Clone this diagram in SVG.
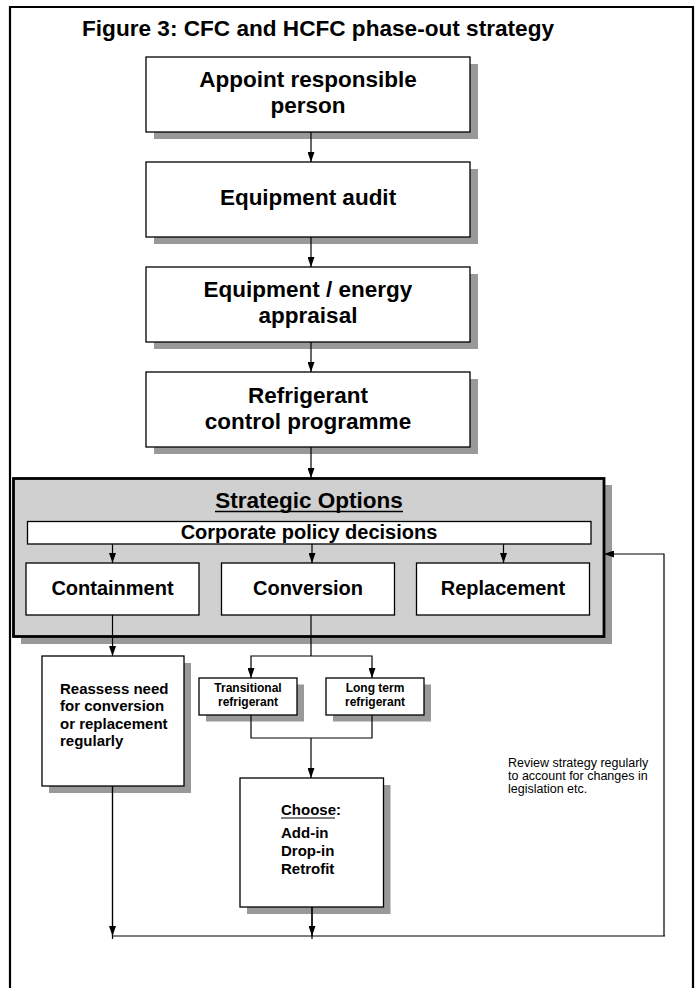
<svg xmlns="http://www.w3.org/2000/svg" width="697" height="988" viewBox="0 0 697 988">
<style>
text{font-family:"Liberation Sans",Arial,sans-serif;fill:#000}
.big{font-size:22.5px;font-weight:bold;text-anchor:middle}
.opt{font-size:20px;font-weight:bold;text-anchor:middle}
.sm{font-size:15px;font-weight:bold}
.xs{font-size:12px;font-weight:bold;text-anchor:middle}
.note{font-size:12.5px}
.box{fill:#fff;stroke:#000;stroke-width:1.3}
.sh{fill:#999}
.ln{fill:none;stroke:#000;stroke-width:1.2}
</style>
<defs>
<marker id="ah" markerUnits="userSpaceOnUse" markerWidth="10" markerHeight="7" refX="10" refY="3.5" orient="auto">
<path d="M0,0 L10,3.5 L0,7 z" fill="#000"/>
</marker>
</defs>
<rect width="697" height="988" fill="#fff"/>
<path d="M10,988 V7 H693 V988" fill="none" stroke="#000" stroke-width="2.2"/>
<text x="318" y="36" class="big" textLength="472" lengthAdjust="spacingAndGlyphs">Figure 3: CFC and HCFC phase-out strategy</text>

<g id="appoint">
<rect x="154" y="64" width="324" height="75" class="sh"/>
<rect x="146" y="57" width="324" height="75" class="box"/>
<text x="308" y="87" class="big">Appoint responsible</text>
<text x="308" y="113" class="big">person</text>
</g>
<g id="audit">
<rect x="154" y="169" width="324" height="75" class="sh"/>
<rect x="146" y="162" width="324" height="75" class="box"/>
<text x="308" y="205" class="big">Equipment audit</text>
</g>
<g id="appraisal">
<rect x="154" y="274" width="324" height="75" class="sh"/>
<rect x="146" y="267" width="324" height="75" class="box"/>
<text x="308" y="296.5" class="big">Equipment / energy</text>
<text x="308" y="322.5" class="big">appraisal</text>
</g>
<g id="refrigerant">
<rect x="154" y="379" width="324" height="75" class="sh"/>
<rect x="146" y="372" width="324" height="75" class="box"/>
<text x="308" y="402.5" class="big">Refrigerant</text>
<text x="308" y="428.5" class="big">control programme</text>
</g>

<g id="strategic">
<rect x="21" y="485" width="591" height="159" class="sh"/>
<rect x="13.5" y="478.5" width="590.5" height="158" fill="#d0d0d0" stroke="#000" stroke-width="2.8"/>
<text x="309" y="508" class="big">Strategic Options</text>
<line x1="215" y1="511.5" x2="403" y2="511.5" stroke="#000" stroke-width="1.6"/>
</g>
<g id="corporate">
<rect x="27.5" y="521.5" width="563.5" height="22.5" class="box"/>
<text x="309" y="539" class="opt">Corporate policy decisions</text>
</g>
<g id="containment">
<rect x="26" y="563" width="173" height="52" class="box"/>
<text x="112.5" y="595" class="opt">Containment</text>
</g>
<g id="conversion">
<rect x="221.5" y="563" width="173" height="52" class="box"/>
<text x="308" y="595" class="opt">Conversion</text>
</g>
<g id="replacement">
<rect x="416.5" y="563" width="173" height="52" class="box"/>
<text x="503" y="595" class="opt">Replacement</text>
</g>

<g id="reassess">
<rect x="49" y="663" width="142" height="130" class="sh"/>
<rect x="42" y="656" width="142" height="130" class="box"/>
<text x="60" y="693.5" class="sm">Reassess need</text>
<text x="60" y="711" class="sm">for conversion</text>
<text x="60" y="728.5" class="sm">or replacement</text>
<text x="60" y="746" class="sm">regularly</text>
</g>
<g id="transitional">
<rect x="206" y="684.5" width="98" height="37" class="sh"/>
<rect x="199" y="678" width="98" height="37" class="box"/>
<text x="248" y="692" class="xs">Transitional</text>
<text x="248" y="706" class="xs">refrigerant</text>
</g>
<g id="longterm">
<rect x="333" y="684.5" width="98" height="37" class="sh"/>
<rect x="326" y="678" width="98" height="37" class="box"/>
<text x="375" y="692" class="xs">Long term</text>
<text x="375" y="706" class="xs">refrigerant</text>
</g>
<g id="choose">
<rect x="247" y="785" width="143.5" height="129" class="sh"/>
<rect x="240" y="778" width="143.5" height="129" class="box"/>
<text x="281" y="815" class="sm">Choose:</text>
<line x1="281" y1="818" x2="335" y2="818" stroke="#000" stroke-width="1.2"/>
<text x="281" y="838" class="sm">Add-in</text>
<text x="281" y="856" class="sm">Drop-in</text>
<text x="281" y="874" class="sm">Retrofit</text>
</g>
<g id="review-note">
<text x="508" y="767" class="note">Review strategy regularly</text>
<text x="508" y="780" class="note">to account for changes in</text>
<text x="508" y="793" class="note">legislation etc.</text>
</g>

<g id="connectors">
<line x1="311" y1="132" x2="311" y2="162" class="ln" marker-end="url(#ah)"/>
<line x1="311" y1="237" x2="311" y2="267" class="ln" marker-end="url(#ah)"/>
<line x1="311" y1="342" x2="311" y2="372" class="ln" marker-end="url(#ah)"/>
<line x1="311" y1="447" x2="311" y2="478" class="ln" marker-end="url(#ah)"/>
<line x1="112.5" y1="544" x2="112.5" y2="563" class="ln" marker-end="url(#ah)"/>
<line x1="312" y1="544" x2="312" y2="563" class="ln" marker-end="url(#ah)"/>
<line x1="503.5" y1="544" x2="503.5" y2="563" class="ln" marker-end="url(#ah)"/>
<line x1="112.5" y1="615" x2="112.5" y2="656" class="ln" marker-end="url(#ah)"/>
<polyline points="311,615 311,656" class="ln"/>
<polyline points="311,656 251,656 251,678" class="ln" marker-end="url(#ah)"/>
<polyline points="311,656 372,656 372,678" class="ln" marker-end="url(#ah)"/>
<polyline points="251,715 251,738 372,738 372,715" class="ln"/>
<line x1="311" y1="738" x2="311" y2="778" class="ln" marker-end="url(#ah)"/>
<line x1="112.5" y1="786" x2="112.5" y2="939" class="ln"/>
<line x1="112.5" y1="786" x2="112.5" y2="936" class="ln" marker-end="url(#ah)"/>
<line x1="312" y1="907" x2="312" y2="939" class="ln"/>
<line x1="312" y1="907" x2="312" y2="936" class="ln" marker-end="url(#ah)"/>
<line x1="112" y1="936" x2="665" y2="936" class="ln"/>
<polyline points="664,936 664,554 604,554" class="ln" marker-end="url(#ah)"/>
</g>
</svg>
